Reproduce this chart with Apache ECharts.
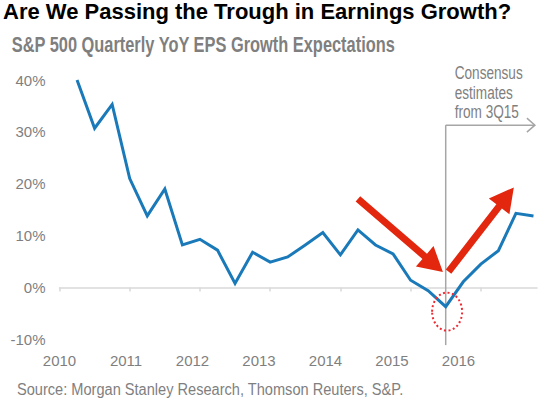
<!DOCTYPE html>
<html><head><meta charset="utf-8">
<script src="https://cdn.jsdelivr.net/npm/echarts@6/dist/echarts.min.js"></script>
<style>html,body{margin:0;padding:0;background:#fff}#c{width:550px;height:400px}</style>
</head><body><div id="c"></div>
<script>
// ---- data ----
const quarters = ['2Q10','3Q10','4Q10','1Q11','2Q11','3Q11','4Q11','1Q12','2Q12','3Q12','4Q12','1Q13','2Q13','3Q13','4Q13','1Q14','2Q14','3Q14','4Q14','1Q15','2Q15','3Q15','4Q15','1Q16','2Q16','3Q16','4Q16'];
const epsGrowth = [40.0, 30.7, 35.3, 21.0, 13.8, 19.0, 8.2, 9.3, 7.2, 0.8, 6.8, 4.9, 5.9, 8.2, 10.6, 6.3, 11.1, 8.2, 6.5, 1.4, -0.6, -3.7, 1.1, 4.5, 7.1, 14.3, 13.8];
const yearLabels = ['2010','2011','2012','2013','2014','2015','2016'];
const consensusFrom = '3Q15';
// annotation anchors in data units [year, %]
const arrowDown = [[2014.25, 17.1], [2015.46, 3.0]];
const arrowUp = [[2015.54, 3.05], [2016.47, 19.3]];
const troughCircle = [2015.52, -4.65];
const consensusTop = 31.3, consensusBottom = -11.1, consensusEnd = 2016.77;

// ---- helpers ----
function qToYear(q){ return 2000 + parseInt(q.slice(2),10) + (parseInt(q[0],10)-1)/4; }
const years = yearLabels.map(Number);
const FONT = "'Liberation Sans', Arial, Helvetica, sans-serif";
const GRAY = '#7f7f7f';

const chart = echarts.init(document.getElementById('c'), null, {renderer:'svg', width:550, height:400});
chart.setOption({
  animation:false,
  backgroundColor:'#fff',
  title:{text:'Are We Passing the Trough in Earnings Growth?', left:3, top:0, padding:0,
    textStyle:{fontFamily:FONT, fontSize:22, fontWeight:'bold', color:'#000'}},
  grid:{left:59.5, right:13, top:80, bottom:60.6, containLabel:false},
  xAxis:[
    {type:'value', min:2010, max:2016.8, interval:1,
     axisLine:{onZero:true, lineStyle:{color:'#d9d9d9', width:1.5}},
     axisTick:{show:true, length:4, customValues:years, lineStyle:{color:'#d9d9d9', width:1.5}},
     axisLabel:{show:false}, splitLine:{show:false}},
    {type:'value', position:'bottom', min:2010, max:2017.18, interval:1,
     axisLine:{show:false, onZero:false}, axisTick:{show:false}, splitLine:{show:false},
     axisLabel:{customValues:years, margin:14, fontFamily:FONT, fontSize:15, color:GRAY,
       formatter: v => yearLabels.includes(String(v)) ? String(v) : ''}}
  ],
  yAxis:{type:'value', min:-10, max:40, interval:10,
    axisLine:{show:false}, axisTick:{show:false}, splitLine:{show:false},
    axisLabel:{margin:14, fontFamily:FONT, fontSize:15, color:GRAY, formatter:'{value}%'}},
  series:[{type:'line', xAxisIndex:0, yAxisIndex:0,
    data: quarters.map((q,i)=>[qToYear(q), epsGrowth[i]]),
    showSymbol:false, symbol:'none', z:5,
    lineStyle:{color:'#1a7ab9', width:3, join:'miter'}}]
});

const px = (t,v) => chart.convertToPixel({seriesIndex:0}, [t,v]);
function arrowPoly(a, b, shaftW, headL, headW){
  const dx=b[0]-a[0], dy=b[1]-a[1], L=Math.hypot(dx,dy), ux=dx/L, uy=dy/L, nx=-uy, ny=ux;
  const nk=[b[0]-ux*headL, b[1]-uy*headL];
  return [
    [a[0]+nx*shaftW/2, a[1]+ny*shaftW/2],
    [nk[0]+nx*shaftW/2, nk[1]+ny*shaftW/2],
    [nk[0]+nx*headW/2, nk[1]+ny*headW/2],
    [b[0], b[1]],
    [nk[0]-nx*headW/2, nk[1]-ny*headW/2],
    [nk[0]-nx*shaftW/2, nk[1]-ny*shaftW/2],
    [a[0]-nx*shaftW/2, a[1]-ny*shaftW/2]
  ];
}
const cx = qToYear(consensusFrom);
const vt = px(cx, consensusTop), vb = px(cx, consensusBottom), ve = px(consensusEnd, consensusTop);
const cc = px(troughCircle[0], troughCircle[1]);
const RED = '#e2270e';

chart.setOption({
  graphic:{elements:[
    {type:'text', left:null, x:11.7, y:44.2, scaleY:1.34,
     style:{text:'S&P 500 Quarterly YoY EPS Growth Expectations', fontFamily:FONT, fontSize:16.4, fontWeight:'bold', fill:GRAY, verticalAlign:'middle', align:'left'}},
    {type:'text', x:17, y:389, scaleY:1.14,
     style:{text:'Source: Morgan Stanley Research, Thomson Reuters, S&P.', fontFamily:FONT, fontSize:14.6, fill:GRAY, verticalAlign:'middle', align:'left'}},
    {type:'line', z:1, shape:{x1:vt[0], y1:vt[1], x2:vb[0], y2:vb[1]}, style:{stroke:'#a6a6a6', lineWidth:1.5}},
    {type:'line', z:1, shape:{x1:vt[0], y1:vt[1], x2:ve[0], y2:ve[1]}, style:{stroke:'#a6a6a6', lineWidth:1.5}},
    {type:'polyline', z:1, shape:{points:[[ve[0]-8, ve[1]-7],[ve[0], ve[1]],[ve[0]-8, ve[1]+7]]}, style:{stroke:'#a6a6a6', lineWidth:1.5, fill:null}},
    {type:'text', x:vt[0]+9, y:vt[1]-3.5, scaleY:1.3,
     style:{text:'Consensus\nestimates\nfrom ' + consensusFrom, fontFamily:FONT, fontSize:13.6, lineHeight:15, fill:GRAY, verticalAlign:'bottom', align:'left'}},
    {type:'polygon', z:10, shape:{points:arrowPoly(px(arrowDown[0][0],arrowDown[0][1]), px(arrowDown[1][0],arrowDown[1][1]), 7, 24, 27)}, style:{fill:RED}},
    {type:'polygon', z:10, shape:{points:arrowPoly(px(arrowUp[0][0],arrowUp[0][1]), px(arrowUp[1][0],arrowUp[1][1]), 7, 24, 26)}, style:{fill:RED}},
    {type:'ellipse', z:10, shape:{cx:cc[0], cy:cc[1], rx:15, ry:19}, style:{fill:null, stroke:'#ee2a32', lineWidth:2, lineDash:[2,2.5]}}
  ]}
});
</script>
</body></html>
